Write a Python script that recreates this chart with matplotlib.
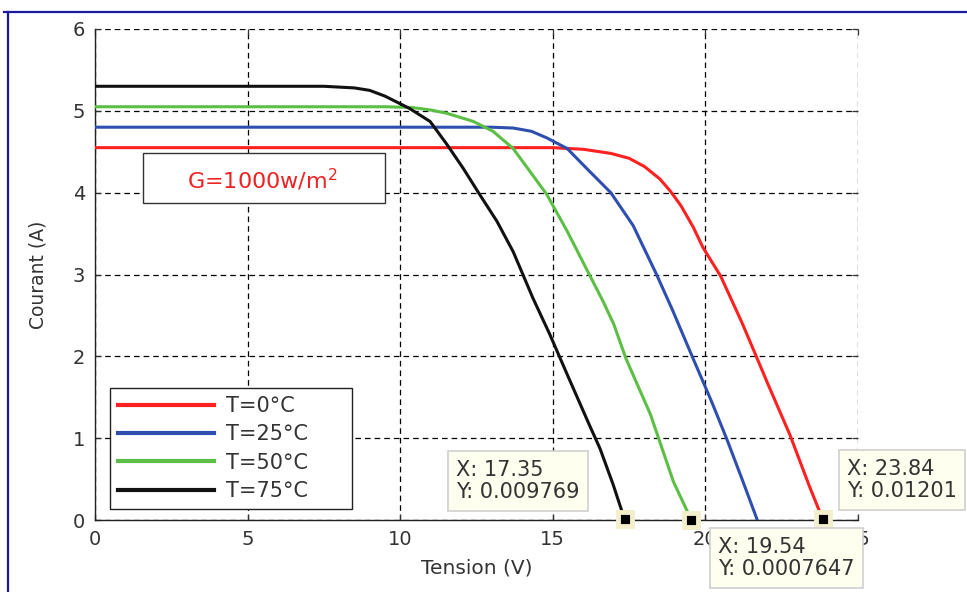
import matplotlib
matplotlib.use("Agg")
import matplotlib.pyplot as plt
from matplotlib.lines import Line2D
from matplotlib.patches import Rectangle

# ---- data ----
v_t0 = [0, 5, 10, 15, 16.0, 16.9, 17.5, 18.0, 18.5, 18.85, 19.2, 19.6, 19.92, 20.5, 21.2, 21.7, 22.05, 22.77, 23.4, 23.84]
i_t0 = [4.55, 4.55, 4.55, 4.55, 4.53, 4.48, 4.42, 4.32, 4.17, 4.02, 3.84, 3.58, 3.33, 2.98, 2.41, 1.97, 1.66, 1.04, 0.42, 0.012]

v_t25 = [0, 5, 10, 13.0, 13.7, 14.3, 14.8, 15.47, 16.1, 16.9, 17.63, 18.4, 18.94, 19.6, 20.2, 20.7, 21.2, 21.7]
i_t25 = [4.8, 4.8, 4.8, 4.8, 4.79, 4.75, 4.67, 4.54, 4.30, 4.0, 3.6, 3.0, 2.55, 1.97, 1.45, 0.99, 0.5, 0.0]

v_t50 = [0, 5, 9.5, 10.4, 11.0, 11.53, 12.4, 13.04, 13.7, 14.25, 14.8, 15.47, 16.1, 16.65, 17.0, 17.4, 18.2, 18.95, 19.54]
i_t50 = [5.05, 5.05, 5.05, 5.04, 5.01, 4.97, 4.87, 4.75, 4.54, 4.26, 3.98, 3.53, 3.07, 2.67, 2.39, 1.97, 1.29, 0.47, 0.0007647]

v_t75 = [0, 5, 7.5, 8.5, 9.0, 9.5, 10.3, 10.98, 11.53, 12.06, 12.6, 13.17, 13.7, 14.02, 14.35, 14.9, 15.47, 16.2, 16.55, 16.98, 17.35]
i_t75 = [5.3, 5.3, 5.3, 5.28, 5.25, 5.18, 5.03, 4.87, 4.59, 4.30, 3.98, 3.65, 3.28, 3.0, 2.71, 2.27, 1.78, 1.16, 0.87, 0.43, 0.009769]

labels = ["T=0°C", "T=25°C", "T=50°C", "T=75°C"]
colors = ["#ff2020", "#2f4fb0", "#5cbf45", "#111111"]

# data tips (x, y, text)
tip_x = [17.35, 19.54, 23.84]
tip_y = [0.009769, 0.0007647, 0.01201]
tip_text = ["X: 17.35\nY: 0.009769", "X: 19.54\nY: 0.0007647", "X: 23.84\nY: 0.01201"]

xticks = [0, 5, 10, 15, 20, 25]
yticks = [0, 1, 2, 3, 4, 5, 6]

W, H = 967, 592
fig = plt.figure(figsize=(W / 100, H / 100), dpi=100)
plt.rcParams['font.family'] = ['DejaVu Sans']

def fx(px):
    return px / W

def fy(py):
    return 1 - py / H

ax = fig.add_axes([fx(95), fy(520), fx(858) - fx(95), fy(29) - fy(520)])

series = [(v_t0, i_t0), (v_t25, i_t25), (v_t50, i_t50), (v_t75, i_t75)]
for (v, i), lab, c in zip(series, labels, colors):
    ax.plot(v, i, color=c, lw=2.2, label=lab, zorder=3)

ax.set_xlim(0, 25)
ax.set_ylim(0, 6)
ax.set_xticks(xticks)
ax.set_yticks(yticks)
ax.grid(True, color="black", linestyle=(0, (4.5, 3.2)), lw=0.9)
ax.tick_params(direction="in", length=4, width=0.9, labelsize=14,
               colors="#333333", pad=7, top=True, right=True)
for s in ["top", "right"]:
    ax.spines[s].set_visible(False)
for s in ["left", "bottom"]:
    ax.spines[s].set_linewidth(1.0)
    ax.spines[s].set_color("#222222")

ax.set_xlabel("Tension (V)", fontsize=14.5, color="#333333", labelpad=7)
ax.set_ylabel("Courant (A)", fontsize=13.5, color="#333333", labelpad=18)

# legend
leg = ax.legend(loc="upper left",
                bbox_to_anchor=(fx(110), fy(512), fx(352) - fx(110), fy(388) - fy(512)),
                bbox_transform=fig.transFigure, mode="expand",
                fontsize=15, handlelength=4.6, handletextpad=0.6,
                labelspacing=0.4, borderpad=0.38, borderaxespad=0,
                fancybox=False, framealpha=1, edgecolor="#222222")
leg.get_frame().set_linewidth(1.0)
for t in leg.get_texts():
    t.set_color("#333333")
for h in leg.get_lines():
    h.set_linewidth(3)

# G=1000 box
fig.patches.append(Rectangle((fx(143), fy(203)), fx(385) - fx(143), fy(153) - fy(203),
                             transform=fig.transFigure, fill=True, facecolor="white",
                             edgecolor="#333333", lw=1.0, zorder=5))
fig.text(fx(262), fy(180), "G=1000w/m$^2$", color="#ee2222", fontsize=16,
         ha="center", va="center", zorder=6)

# data tip markers
ax.plot(tip_x, tip_y, linestyle="none", marker="s", markersize=10,
        markerfacecolor="black", markeredgecolor="#f3efcc", markeredgewidth=3.5,
        clip_on=False, zorder=10)

# data tip boxes (pixel anchors of the box left/center)
tip_pos = [(456, 481), (718, 558), (847, 480)]
for (px, py), txt in zip(tip_pos, tip_text):
    fig.text(fx(px), fy(py), txt, fontsize=15, color="#333333", ha="left", va="center",
             linespacing=1.15, zorder=12,
             bbox=dict(boxstyle="square,pad=0.4", facecolor="#fffff0",
                       edgecolor="#cfcfcf", lw=1.2))

# blue frame lines of the window
fig.add_artist(Line2D([fx(4), 1.0], [fy(12), fy(12)], color="#1a1aa0", lw=1.6,
                      transform=fig.transFigure))
fig.add_artist(Line2D([fx(8), fx(8)], [fy(12), 0.0], color="#1a1aa0", lw=1.6,
                      transform=fig.transFigure))

fig.savefig("out.png", dpi=100, facecolor="white")
